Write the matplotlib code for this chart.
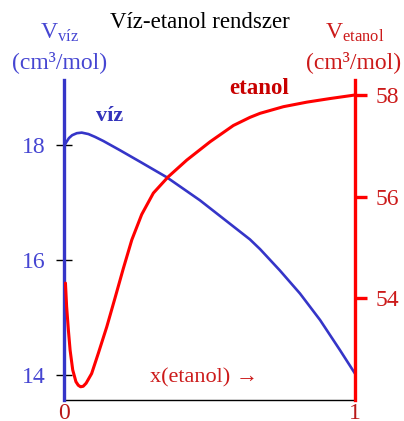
import matplotlib
matplotlib.use("Agg")
import matplotlib.pyplot as plt

plt.rcParams["font.family"] = ["Liberation Serif", "DejaVu Serif"]
plt.rcParams["mathtext.fontset"] = "custom"
plt.rcParams["mathtext.rm"] = "Liberation Serif"
plt.rcParams["mathtext.it"] = "Liberation Serif:italic"

# partial molar volume of water (cm3/mol) vs. ethanol mole fraction
x_viz = [0.0, 0.008, 0.017, 0.028, 0.044, 0.061, 0.084, 0.107, 0.135, 0.192,
         0.261, 0.353, 0.467, 0.553, 0.639, 0.674, 0.742, 0.811, 0.880, 0.948,
         1.0]
v_viz = [17.98, 18.05, 18.12, 18.17, 18.205, 18.215, 18.19, 18.14, 18.07, 17.91,
         17.71, 17.44, 17.04, 16.70, 16.36, 16.19, 15.82, 15.42, 14.96, 14.44,
         14.03]

# partial molar volume of ethanol (cm3/mol)
x_et = [0.005, 0.009, 0.015, 0.021, 0.030, 0.041, 0.049, 0.057, 0.066, 0.076,
        0.095, 0.118, 0.147, 0.175, 0.204, 0.233, 0.267, 0.307, 0.358, 0.422,
        0.502, 0.582, 0.639, 0.674, 0.754, 0.835, 0.914, 1.0]
v_et = [54.30, 53.84, 53.38, 52.98, 52.59, 52.36, 52.29, 52.26, 52.27, 52.33,
        52.52, 52.92, 53.44, 54.00, 54.59, 55.15, 55.65, 56.07, 56.39, 56.72,
        57.08, 57.40, 57.56, 57.64, 57.77, 57.86, 57.93, 58.0]

viz_ticks = [14, 16, 18]
et_ticks = [54, 56, 58]

blue = "#3535c8"
blue_txt = "#4646d2"
red = "#ff0000"
red_txt = "#cc1a1a"

fig = plt.figure(figsize=(4.04, 4.21), dpi=100)
W, H = 404, 421
ax = fig.add_axes([64 / W, 21 / H, 291 / W, 320 / H])
ax2 = ax.twinx()

ax.plot(x_viz, v_viz, color=blue, lw=1.9, solid_capstyle="round",
        solid_joinstyle="round")
ax2.plot(x_et, v_et, color=red, lw=2.2, solid_capstyle="round",
         solid_joinstyle="round")

ax.set_xlim(0, 1)
ax.set_ylim(13.571, 19.129)
ax2.set_ylim(52.0, 58.295)

ax.set_xticks([0, 1])
ax.set_xticklabels(["0", "1"])
ax.tick_params(axis="x", length=0, pad=2, labelsize=17, labelcolor="#b81818")

ax.set_yticks(viz_ticks)
ax.tick_params(axis="y", direction="inout", length=12, width=1, color="black",
               pad=7, labelsize=17, labelcolor=blue_txt)
ax2.set_yticks(et_ticks)
ax2.tick_params(axis="y", direction="out", length=8.5, width=2.4, color=red,
                pad=6, labelsize=17, labelcolor=red_txt)

for a in (ax, ax2):
    a.spines["top"].set_visible(False)
ax.spines["right"].set_visible(False)
ax2.spines["left"].set_visible(False)
ax2.spines["bottom"].set_visible(False)
ax.spines["left"].set_color(blue)
ax.spines["left"].set_linewidth(2.4)
ax2.spines["right"].set_color(red)
ax2.spines["right"].set_linewidth(2.4)
ax.spines["bottom"].set_linewidth(1.0)
ax.spines["bottom"].set_color("black")
ax.spines["left"].set_zorder(5)
ax2.spines["right"].set_zorder(5)


def px(xp, yp):
    return xp / W, 1 - yp / H


fig.text(*px(199.5, 28), "Víz-etanol rendszer", ha="center", va="baseline",
         fontsize=16.5, color="black")
fig.text(*px(59.5, 39), r"V$_{\mathrm{víz}}$", ha="center", va="baseline",
         fontsize=17, color=blue_txt)
fig.text(*px(59.5, 68), "(cm³/mol)", ha="center", va="baseline",
         fontsize=17, color=blue_txt)
fig.text(*px(355, 39), r"V$_{\mathrm{etanol}}$", ha="center", va="baseline",
         fontsize=17, color=red_txt)
fig.text(*px(354, 68), "(cm³/mol)", ha="center", va="baseline",
         fontsize=17, color=red_txt)

fig.text(*px(110, 121), "víz", ha="center", va="baseline", fontsize=16,
         fontweight="bold", color="#3333bb")
fig.text(*px(259, 94), "etanol", ha="center", va="baseline", fontsize=16.5,
         fontweight="bold", color="#c80000")
fig.text(*px(204, 382), "x(etanol) →", ha="center", va="baseline",
         fontsize=16, color=red_txt)

fig.savefig("out.png", dpi=100)
